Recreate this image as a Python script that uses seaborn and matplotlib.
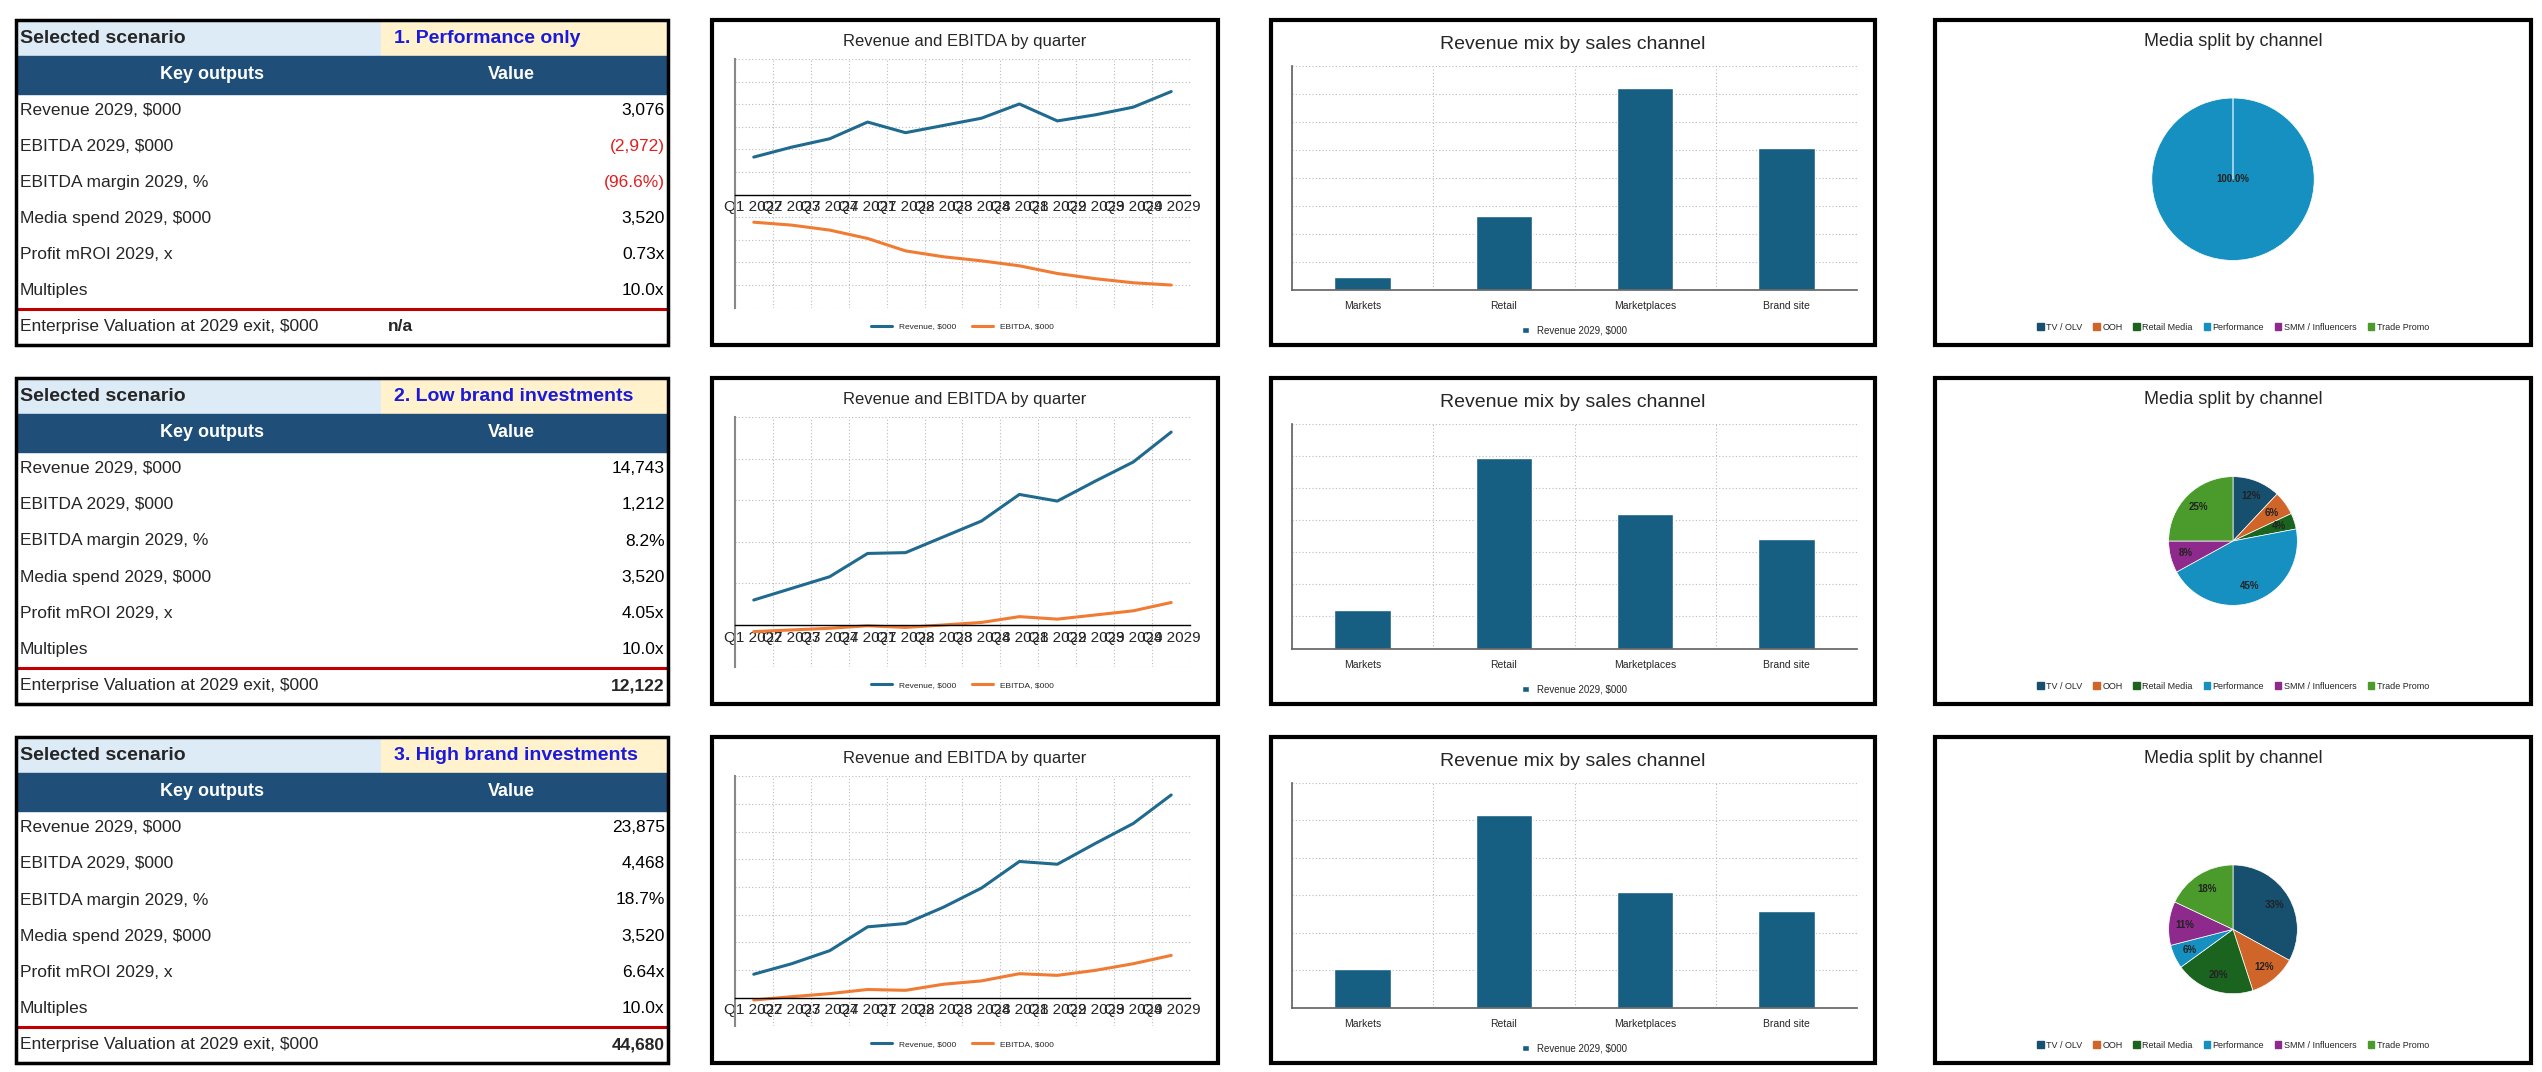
import matplotlib
matplotlib.use("Agg")
import matplotlib.pyplot as plt
import seaborn as sns
import pandas as pd
from matplotlib.patches import Rectangle

sns.set_theme(style="white")
plt.rcParams['font.family'] = ['Liberation Sans', 'DejaVu Sans']

# ---------------- data ----------------
quarters = ["Q1 2027", "Q2 2027", "Q3 2027", "Q4 2027", "Q1 2028", "Q2 2028",
            "Q3 2028", "Q4 2028", "Q1 2029", "Q2 2029", "Q3 2029", "Q4 2029"]
scenario_names = ["1. Performance only", "2. Low brand investments", "3. High brand investments"]

rev_s1 = [332, 420, 494, 642, 548, 612, 676, 802, 652, 706, 774, 912]
ebitda_s1 = [-244, -270, -314, -388, -498, -550, -586, -630, -698, -744, -780, -800]
rev_s2 = [600, 880, 1160, 1720, 1740, 2120, 2500, 3140, 2980, 3460, 3920, 4640]
ebitda_s2 = [-160, -120, -80, -20, -60, 0, 60, 200, 140, 240, 340, 540]
rev_s3 = [850, 1230, 1700, 2560, 2680, 3270, 3960, 4920, 4820, 5570, 6290, 7320]
ebitda_s3 = [-80, 40, 150, 300, 270, 490, 610, 870, 810, 990, 1230, 1530]

channels = ["Markets", "Retail", "Marketplaces", "Brand site"]
chan_s1 = [90, 526, 1438, 1014]
chan_s2 = [1190, 5940, 4190, 3400]
chan_s3 = [2040, 10300, 6160, 5160]

media = ["TV / OLV", "OOH", "Retail Media", "Performance", "SMM / Influencers", "Trade Promo"]
media_s1 = [0, 0, 0, 100, 0, 0]
media_s2 = [12, 6, 4, 45, 8, 25]
media_s3 = [33, 12, 20, 6, 11, 18]
media_colors = ["#17506e", "#d0652a", "#1b6420", "#1590c0", "#8d2a8c", "#4a9a2c"]

row_labels = ["Revenue 2029, $000", "EBITDA 2029, $000", "EBITDA margin 2029, %",
              "Media spend 2029, $000", "Profit mROI 2029, x", "Multiples"]
vals_s1 = ["3,076", "(2,972)", "(96.6%)", "3,520", "0.73x", "10.0x"]
vals_s2 = ["14,743", "1,212", "8.2%", "3,520", "4.05x", "10.0x"]
vals_s3 = ["23,875", "4,468", "18.7%", "3,520", "6.64x", "10.0x"]
ev_vals = ["n/a", "12,122", "44,680"]

line_ylims = [(-1000, 1200), (-1000, 5000), (-1000, 8000)]
line_steps = [200, 1000, 1000]
bar_ylims = [(0, 1600), (0, 7000), (0, 12000)]
bar_steps = [200, 1000, 2000]
pie_geo = [(0.49, 82), (0.50, 65), (0.59, 65)]  # (centre y fraction, radius px)

W, H = 2542, 1072
fig = plt.figure(figsize=(W / 100, H / 100), dpi=100)
fig.patch.set_facecolor("white")

def box(x0, y0, x1, y1):
    return [x0 / W, 1 - y1 / H, (x1 - x0) / W, (y1 - y0) / H]

def frame(x0, y0, x1, y1, lw=2.5, color="black"):
    fig.patches.append(Rectangle((x0 / W, 1 - y1 / H), (x1 - x0) / W, (y1 - y0) / H,
                                 transform=fig.transFigure, fill=False, lw=lw,
                                 edgecolor=color, zorder=10))

rows_y = [(20, 345), (378, 704), (737, 1063)]
revs = [rev_s1, rev_s2, rev_s3]
ebs = [ebitda_s1, ebitda_s2, ebitda_s3]
chans = [chan_s1, chan_s2, chan_s3]
medias = [media_s1, media_s2, media_s3]
vals = [vals_s1, vals_s2, vals_s3]
navy = "#1f4e79"

for i, (ya, yb) in enumerate(rows_y):
    ph = yb - ya
    # ---------------- table ----------------
    tx0, tx1 = 16, 668
    tax = fig.add_axes(box(tx0, ya, tx1, yb))
    tax.set_xlim(0, 1); tax.set_ylim(9, 0); tax.axis("off")
    tax.add_patch(Rectangle((0, 0), 0.56, 1, color="#ddebf7"))
    tax.add_patch(Rectangle((0.56, 0), 0.44, 1, color="#fff2cc"))
    tax.add_patch(Rectangle((0, 1), 1, 1.05, color=navy))
    tax.text(0.006, 0.5, "Selected scenario", fontsize=14, fontweight="bold", va="center")
    tax.text(0.58, 0.5, scenario_names[i], fontsize=14, fontweight="bold", va="center", color="#1a1adb")
    tax.text(0.30, 1.5, "Key outputs", fontsize=13, fontweight="bold", va="center", ha="center", color="white")
    tax.text(0.76, 1.5, "Value", fontsize=13, fontweight="bold", va="center", ha="center", color="white")
    for r, (lab, v) in enumerate(zip(row_labels, vals[i])):
        yy = 2.5 + r
        tax.text(0.006, yy, lab, fontsize=12.5, va="center")
        tax.text(0.995, yy, v, fontsize=12.5, va="center", ha="right",
                 color="#e02020" if v.startswith("(") else "black")
    tax.text(0.006, 8.5, "Enterprise Valuation at 2029 exit, $000", fontsize=12.5, va="center")
    if ev_vals[i] == "n/a":
        tax.text(0.57, 8.5, ev_vals[i], fontsize=12.5, va="center", fontweight="bold")
    else:
        tax.text(0.995, 8.5, ev_vals[i], fontsize=12.5, va="center", ha="right", fontweight="bold")
    frame(tx0, ya, tx1, yb, lw=2.5)
    tax.add_patch(Rectangle((0, 8.0), 1, 0.99, fill=False, lw=2.2, edgecolor="#c00000",
                            zorder=20, clip_on=False))

    # ---------------- line chart ----------------
    lx0, lx1 = 712, 1218
    frame(lx0, ya, lx1, yb, lw=3)
    fig.text((lx0 + lx1) / 2 / W, 1 - (ya + ph * 0.065) / H, "Revenue and EBITDA by quarter",
             ha="center", va="center", fontsize=12)
    pw = lx1 - lx0
    lax = fig.add_axes(box(lx0 + pw * 0.045, ya + ph * 0.12, lx0 + pw * 0.945, ya + ph * 0.885))
    df = pd.DataFrame({"Quarter": quarters * 2,
                       "Value": revs[i] + ebs[i],
                       "Series": ["Revenue, $000"] * 12 + ["EBITDA, $000"] * 12})
    sns.lineplot(data=df, x="Quarter", y="Value", hue="Series", sort=False,
                 palette=["#1f6a8e", "#f07b32"], linewidth=2.2, ax=lax, legend=True)
    lo, hi = line_ylims[i]
    lax.set_ylim(lo, hi)
    lax.set_xlim(-0.5, 11.5)
    lax.set_yticks(range(lo, hi + 1, line_steps[i]))
    lax.set_yticklabels([])
    lax.set_xticks(range(12))
    lax.set_xticklabels(quarters, fontsize=6, color="#333333")
    lax.set_xticks([x + 0.5 for x in range(-1, 12)], minor=True)
    lax.tick_params(axis="x", which="minor", labelbottom=False, length=0)
    lax.tick_params(axis="x", which="major", length=0, pad=4)
    lax.tick_params(axis="y", length=0)
    lax.grid(True, which="major", axis="y", linestyle=(0, (1, 2)), color="#bbbbbb", lw=0.8)
    lax.grid(True, which="minor", axis="x", linestyle=(0, (1, 2)), color="#bbbbbb", lw=0.8)
    lax.set_xlabel(""); lax.set_ylabel("")
    for s in ["top", "right"]:
        lax.spines[s].set_visible(False)
    lax.spines["bottom"].set_position(("data", 0))
    lax.spines["bottom"].set_color("black"); lax.spines["bottom"].set_linewidth(1)
    lax.spines["left"].set_color("#888888"); lax.spines["left"].set_linewidth(1.5)
    lax.legend(loc="upper center", bbox_to_anchor=(0.5, -0.03), ncol=2, frameon=False,
               fontsize=6, handlelength=2.5)

    # ---------------- bar chart ----------------
    bx0, bx1 = 1271, 1875
    bw = bx1 - bx0
    frame(bx0, ya, bx1, yb, lw=3)
    fig.text((bx0 + bx1) / 2 / W, 1 - (ya + ph * 0.075) / H, "Revenue mix by sales channel",
             ha="center", va="center", fontsize=14)
    bax = fig.add_axes(box(bx0 + bw * 0.035, ya + ph * 0.14, bx0 + bw * 0.97, ya + ph * 0.83))
    bdf = pd.DataFrame({"Channel": channels, "Revenue 2029, $000": chans[i]})
    sns.barplot(data=bdf, x="Channel", y="Revenue 2029, $000", color="#175f82",
                width=0.4, saturation=1, ax=bax, label="Revenue 2029, $000")
    lo, hi = bar_ylims[i]
    bax.set_ylim(lo, hi)
    bax.set_xlim(-0.5, 3.5)
    bax.set_yticks(range(lo, hi + 1, bar_steps[i])); bax.set_yticklabels([])
    bax.set_xticks([x + 0.5 for x in range(-1, 4)], minor=True)
    bax.tick_params(axis="x", which="minor", labelbottom=False, length=0)
    bax.tick_params(axis="x", which="major", length=0, labelsize=7.5, pad=8)
    bax.tick_params(axis="y", length=0)
    bax.grid(True, which="major", axis="y", linestyle=(0, (1, 2)), color="#bbbbbb", lw=0.8)
    bax.grid(True, which="minor", axis="x", linestyle=(0, (1, 2)), color="#bbbbbb", lw=0.8)
    bax.set_xlabel(""); bax.set_ylabel("")
    for s in ["top", "right"]:
        bax.spines[s].set_visible(False)
    bax.spines["bottom"].set_color("#666666"); bax.spines["left"].set_color("#666666")
    bax.legend(loc="upper center", bbox_to_anchor=(0.5, -0.12), frameon=False, fontsize=7,
               handlelength=0.7, handleheight=0.7)

    # ---------------- pie chart ----------------
    qx0, qx1 = 1935, 2531
    frame(qx0, ya, qx1, yb, lw=3)
    fig.text((qx0 + qx1) / 2 / W, 1 - (ya + ph * 0.065) / H, "Media split by channel",
             ha="center", va="center", fontsize=13)
    cyf, r = pie_geo[i]
    cx = (qx0 + qx1) / 2
    cy = ya + ph * cyf
    pax = fig.add_axes(box(cx - r, cy - r, cx + r, cy + r))
    m = medias[i]
    fmt = "%1.1f%%" if max(m) == 100 else "%1.0f%%"
    pax.pie(m, colors=media_colors, startangle=90, counterclock=False, radius=1,
            autopct=lambda p, f=fmt: (f % p) if p > 0 else "",
            pctdistance=0.75 if max(m) < 100 else 0.0,
            textprops={"fontsize": 7, "fontweight": "bold", "color": "#222222"},
            wedgeprops={"linewidth": 0.5, "edgecolor": "white"})
    pax.set_xlim(-1.01, 1.01); pax.set_ylim(-1.01, 1.01)
    pax.set_aspect("equal")
    handles = [Rectangle((0, 0), 1, 1, color=c) for c in media_colors]
    fig.legend(handles, media, loc="center", ncol=6, frameon=False, fontsize=6.5,
               handlelength=0.7, handleheight=0.7, columnspacing=1.2, handletextpad=0.3,
               bbox_to_anchor=(cx / W, 1 - (ya + ph * 0.945) / H))

fig.savefig("out.png", dpi=100)
